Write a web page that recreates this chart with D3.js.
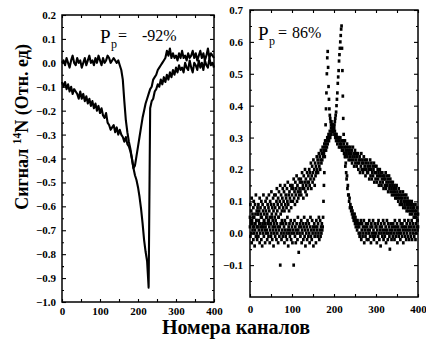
<!DOCTYPE html>
<html>
<head>
<meta charset="utf-8">
<script src="https://cdn.jsdelivr.net/npm/d3@7"></script>
<style>
  html, body { margin: 0; padding: 0; background: #fff; }
  svg { display: block; }
</style>
</head>
<body>
<svg id="chart" width="426" height="342"></svg>
<script>
// ---- data -------------------------------------------------------------
// Channel axis (shared by both panels)
const channelTicks = [0, 100, 200, 300, 400];
const channelMinorTicks = [50, 150, 250, 350];

// Left panel (Pp = -92 %): y ticks
const leftYTicks = [0.2, 0.1, 0.0, -0.1, -0.2, -0.3, -0.4, -0.5, -0.6, -0.7, -0.8, -0.9, -1.0];
const leftYMinor = [0.15, 0.05, -0.05, -0.15, -0.25, -0.35, -0.45, -0.55, -0.65, -0.75, -0.85, -0.95];

// Right panel (Pp = 86 %): y ticks
const rightYTicks = [0.7, 0.6, 0.5, 0.4, 0.3, 0.2, 0.1, 0.0, -0.1];
const rightYMinor = [0.65, 0.55, 0.45, 0.35, 0.25, 0.15, 0.05, -0.05, -0.15];

// Left panel traces: one reading every 4 channels (0..400), in units of 0.01
const leftChannelStep = 4;
const leftTraceA = [
  0, 1, -1, 2, 0, -2, 1, 3, 0, -1, 2, 0, 1, -2, 0, 2, -1, 1, 3, 0,
  1, -1, 2, 0, 3, 1, -1, 2, 0, 1, 3, 2, 0, 1, 2, 1, 0, 1, -1, -3,
  -7, -16, -24, -29, -33, -36, -40, -44, -47, -49, -52, -56, -61, -67, -74, -79, -83, -94, -19, -16,
  -15, -12, -11, -9, -10, -7, -9, -6, -8, -5, -7, -4, -6, -3, -5, -2, -4, -1, -3, -2,
  -4, 0, -2, -3, 1, -2, -4, 0, -1, -3, 1, -2, 0, -3, 1, -1, -2, 2, -1, 0, -2
];
const leftTraceB = [
  -8, -10, -8, -11, -9, -12, -10, -13, -11, -12, -13, -15, -12, -15, -13, -16, -14, -17, -15, -18,
  -16, -19, -17, -20, -18, -21, -19, -22, -23, -21, -25, -26, -28, -27, -26, -29, -27, -30, -28, -30,
  -31, -33, -31, -34, -35, -37, -40, -44, -43, -39, -35, -31, -27, -23, -20, -17, -15, -13, -11, -10,
  -7, -6, -5, -3, -2, -1, 0, 1, 2, 5, 3, 6, 2, 4, 2, 3, 1, 4, 2, 5,
  2, 3, 1, 4, 2, 3, 5, 2, 4, 1, 3, 5, 2, 4, 1, 3, 6, 2, 4, 3, 2
];

// Right panel scatter: one reading per channel (0..400), in units of 0.01
const rightTraceUp = [
  2, -1, 4, 0, -3, 3, 1, 5, -2, 0, 2, -4, 1, 3, -1, 4, 0, -2, 2, 6,
  -1, 1, 3, -3, 0, 2, 5, -2, 1, -4, 3, 0, 2, -1, 4, 1, -3, 2, 0, 5,
  1, -2, 3, 0, -1, 4, 2, -3, 1, 3, -1, 0, 5, -2, 2, 1, -4, 3, 0, 2,
  -1, 4, 1, -2, 3, 0, 2, -3, 5, 1, -1, 2, -10, 3, 0, -2, 4, 1, -1, 3,
  0, 2, -3, 4, 1, -1, 3, 0, -2, 5, 1, -4, 2, 0, 3, -1, 1, 4, -2, 0,
  2, -3, 3, 1, -10, 0, 4, -1, 2, -3, 1, 3, 0, -2, 5, 1, -6, 2, 0, 3,
  -1, 2, 4, -3, 1, 0, 3, -2, 2, 5, -1, 1, -4, 3, 0, 2, -2, 4, 1, -1,
  3, 0, -3, 2, 5, -1, 1, -2, 4, 0, 2, -4, 1, 3, -1, 2, 0, -3, 4, 1,
  2, -1, 3, 0, 5, -2, 1, 4, -1, 2, 0, 3, 1, 2, 5, 10, 15, 19, 24, 29,
  34, 39, 44, 50, 55, 57, 52, 46, 42, 39, 37, 36, 35, 34, 35, 33, 34, 32, 33, 33,
  33, 31, 32, 30, 31, 29, 31, 30, 28, 30, 29, 30, 27, 29, 28, 30, 27, 28, 29, 26,
  27, 29, 26, 28, 25, 27, 29, 24, 26, 27, 25, 28, 24, 26, 27, 23, 25, 26, 24, 27,
  23, 25, 26, 22, 24, 27, 23, 25, 21, 24, 26, 22, 23, 25, 21, 24, 22, 25, 20, 23,
  22, 24, 19, 23, 21, 25, 20, 22, 23, 19, 22, 24, 20, 21, 23, 18, 22, 20, 23, 19,
  21, 19, 22, 20, 17, 21, 23, 18, 20, 22, 17, 19, 21, 18, 20, 22, 16, 19, 21, 17,
  19, 21, 16, 18, 20, 17, 19, 15, 18, 20, 16, 18, 19, 15, 17, 19, 16, 18, 14, 17,
  18, 15, 17, 19, 14, 16, 18, 15, 17, 13, 16, 18, 14, 15, 17, 13, 16, 14, 12, 15,
  16, 13, 14, 12, 15, 13, 11, 14, 12, 15, 11, 13, 12, 10, 14, 11, 12, 9, 13, 11,
  10, 12, 9, 11, 13, 8, 10, 12, 9, 11, 8, 10, 12, 7, 9, 11, 8, 10, 7, 9,
  10, 6, 8, 9, 7, 10, 6, 8, 7, 9, 5, 8, 7, 6, 9, 5, 7, 6, 8, 4,
  6
];
const rightTraceDown = [
  5, 9, 3, 7, 11, 4, 6, 2, 8, 10, 5, 3, 9, 6, 12, 4, 7, 2, 8, 6,
  9, 4, 7, 11, 3, 8, 6, 10, 5, 2, 9, 7, 12, 4, 6, 8, 3, 10, 7, 5,
  11, 6, 9, 4, 8, 12, 7, 5, 10, 3, 9, 13, 6, 8, 4, 11, 7, 9, 12, 5,
  8, 12, 6, 10, 14, 7, 9, 11, 5, 13, 8, 10, 15, 6, 12, 9, 7, 11, 14, 8,
  10, 13, 7, 15, 9, 12, 11, 8, 14, 10, 16, 9, 12, 7, 13, 11, 15, 10, 8, 14,
  12, 15, 10, 14, 17, 11, 13, 9, 16, 12, 14, 18, 10, 15, 13, 11, 17, 12, 14, 16,
  13, 17, 12, 16, 19, 14, 15, 11, 18, 14, 16, 20, 13, 17, 15, 12, 19, 16, 14, 18,
  16, 20, 15, 19, 17, 22, 14, 18, 21, 16, 19, 23, 17, 20, 15, 22, 18, 21, 19, 24,
  20, 23, 19, 22, 25, 21, 24, 20, 23, 26, 22, 25, 23, 27, 24, 26, 25, 28, 26, 27,
  28, 26, 29, 27, 30, 28, 29, 31, 29, 30, 32, 30, 31, 33, 31, 32, 34, 32, 33, 33,
  33, 34, 35, 36, 37, 38, 40, 42, 44, 47, 49, 51, 54, 56, 58, 60, 62, 64, 65, 58,
  51, 43, 36, 31, 29, 25, 24, 21, 22, 19, 17, 18, 14, 15, 12, 12, 10, 11, 8, 9,
  8, 7, 8, 6, 7, 5, 6, 4, 5, 6, 3, 5, 2, 4, 3, 1, 4, 2, 3, 0,
  2, -1, 3, 0, 4, -2, 1, 3, -1, 2, 0, 4, -3, 1, 2, -1, 3, 0, -2, 2,
  1, 3, -2, 0, 4, 1, -1, 2, -3, 3, 0, 2, -1, 4, 1, -2, 0, 3, -1, 2,
  0, 2, -3, 1, 3, -1, 4, 0, -2, 2, 1, -4, 3, 0, 2, -1, 1, 4, -2, 0,
  3, -1, 1, 2, -3, 0, 4, 1, -2, 3, 0, 2, -1, -5, 1, 3, 0, -2, 2, 1,
  -1, 3, 0, 2, -2, 4, 1, -1, 2, 0, 3, -3, 1, 2, -1, 0, 4, 1, -2, 3,
  0, 2, -1, 3, 1, -3, 2, 0, 4, -1, 1, 2, -2, 3, 0, 1, -1, 4, 2, -2,
  1, 3, 0, -1, 2, 4, -2, 1, 3, 0, 2, -1, 5, 1, -2, 3, 0, 2, 4, 1,
  2
];
const valueUnit = 0.01;

// Texts
const xAxisTitle = "Номера каналов";
const yAxisTitle = ["Сигнал ", "14", "N (Отн. ед)"];
const leftPolarization = "-92%";
const rightPolarization = "86%";

// ---- drawing ----------------------------------------------------------
const serif = "'Liberation Serif', 'DejaVu Serif', serif";
const svg = d3.select("#chart");
const fmt = d3.format(".1f");

function drawPanel(cfg) {
  const x = d3.scaleLinear().domain([0, 400]).range([cfg.x0, cfg.x1]);
  const y = d3.scaleLinear().domain(cfg.yDomain).range([cfg.y1, cfg.y0]);
  const g = svg.append("g");

  const styleAxis = sel => {
    sel.select(".domain").remove();
    sel.attr("font-family", serif).attr("font-size", 11).attr("font-weight", "bold");
    sel.selectAll("line").attr("stroke", "#000").attr("stroke-width", 1.1);
    sel.selectAll("text").attr("fill", "#000");
  };

  // left axis: labelled major ticks + minor ticks, pointing inward
  g.append("g").attr("transform", `translate(${cfg.x0},0)`)
    .call(d3.axisLeft(y).tickValues(cfg.yTicks).tickSize(-4).tickPadding(cfg.yPad).tickFormat(fmt))
    .call(styleAxis);
  g.append("g").attr("transform", `translate(${cfg.x0},0)`)
    .call(d3.axisLeft(y).tickValues(cfg.yMinor).tickSize(-2).tickFormat(""))
    .call(styleAxis);
  // right edge ticks
  g.append("g").attr("transform", `translate(${cfg.x1},0)`)
    .call(d3.axisRight(y).tickValues(cfg.yTicks).tickSize(-4).tickFormat(""))
    .call(styleAxis);
  g.append("g").attr("transform", `translate(${cfg.x1},0)`)
    .call(d3.axisRight(y).tickValues(cfg.yMinor).tickSize(-2).tickFormat(""))
    .call(styleAxis);
  // bottom axis
  g.append("g").attr("transform", `translate(0,${cfg.y1})`)
    .call(d3.axisBottom(x).tickValues(channelTicks).tickSize(-3).tickPadding(cfg.xPad).tickFormat(d3.format("d")))
    .call(styleAxis);
  g.append("g").attr("transform", `translate(0,${cfg.y1})`)
    .call(d3.axisBottom(x).tickValues(channelMinorTicks).tickSize(-3).tickFormat(""))
    .call(styleAxis);
  // top edge ticks
  g.append("g").attr("transform", `translate(0,${cfg.y0})`)
    .call(d3.axisTop(x).tickValues(channelTicks.concat(channelMinorTicks)).tickSize(-3).tickFormat(""))
    .call(styleAxis);

  // frame
  g.append("rect")
    .attr("x", cfg.x0).attr("y", cfg.y0)
    .attr("width", cfg.x1 - cfg.x0).attr("height", cfg.y1 - cfg.y0)
    .attr("fill", "none").attr("stroke", "#000").attr("stroke-width", 1.5);

  return { x, y, g };
}

// Left panel: two noisy traces drawn as lines
const L = drawPanel({
  x0: 62, x1: 214, y0: 15, y1: 302,
  yDomain: [-1.0, 0.2], yTicks: leftYTicks, yMinor: leftYMinor,
  yPad: 6, xPad: 5
});
const leftLine = d3.line()
  .x((d, i) => L.x(i * leftChannelStep))
  .y(d => L.y(d * valueUnit));
[leftTraceA, leftTraceB].forEach(trace => {
  L.g.append("path")
    .datum(trace)
    .attr("d", leftLine)
    .attr("fill", "none")
    .attr("stroke", "#000")
    .attr("stroke-width", 2.1)
    .attr("stroke-linejoin", "round");
});

// Right panel: two scatter traces
const R = drawPanel({
  x0: 250, x1: 418, y0: 10, y1: 297,
  yDomain: [-0.2, 0.7], yTicks: rightYTicks, yMinor: rightYMinor,
  yPad: 7, xPad: 8
});
const dotW = 2.7, dotH = 3.3;
[rightTraceUp, rightTraceDown].forEach(trace => {
  R.g.append("g").selectAll("rect")
    .data(trace)
    .join("rect")
    .attr("x", (d, i) => R.x(i) - dotW / 2)
    .attr("y", d => R.y(d * valueUnit) - dotH / 2)
    .attr("width", dotW).attr("height", dotH)
    .attr("fill", "#000");
});

// Polarization annotations: "P" with subscript "p", then "= value"
function polarization(g, px, py, eqX, valX, value) {
  const t = g.append("text").attr("font-family", serif).attr("fill", "#000");
  t.append("tspan").attr("x", px).attr("y", py).attr("font-size", 19).text("P");
  t.append("tspan").attr("x", px + 11).attr("y", py + 5).attr("font-size", 12).text("p");
  t.append("tspan").attr("x", eqX).attr("y", py - 2).attr("font-size", 16).text("=");
  t.append("tspan").attr("x", valX).attr("y", py - 2).attr("font-size", 16).text(value);
}
polarization(L.g, 100, 43, 118, 142, leftPolarization);
polarization(R.g, 258, 40, 278, 292, rightPolarization);

// Axis titles
svg.append("text")
  .attr("x", 236).attr("y", 334)
  .attr("text-anchor", "middle")
  .attr("font-family", serif).attr("font-size", 20).attr("font-weight", "bold")
  .attr("fill", "#000")
  .text(xAxisTitle);

const yt = svg.append("text")
  .attr("transform", "translate(28,127) rotate(-90)")
  .attr("text-anchor", "middle")
  .attr("font-family", serif).attr("font-size", 18).attr("font-weight", "bold")
  .attr("fill", "#000");
yt.append("tspan").text(yAxisTitle[0]);
yt.append("tspan").attr("dy", -7).attr("font-size", 11.5).text(yAxisTitle[1]);
yt.append("tspan").attr("dy", 7).text(yAxisTitle[2]);
</script>
</body>
</html>
